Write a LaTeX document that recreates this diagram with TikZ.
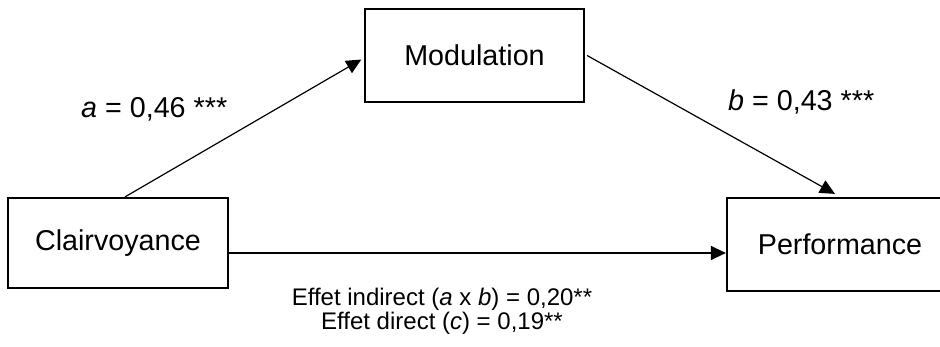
\documentclass[tikz,border=0pt]{standalone}
\usepackage{fontspec}
\setmainfont{Liberation Sans}
\usetikzlibrary{arrows.meta}
\begin{document}
\begin{tikzpicture}[x=1pt,y=-1pt,
  box/.style={draw, line width=2.2pt, inner sep=0pt, font=\fontsize{28.7}{34}\selectfont},
  arr/.style={line width=1.2pt, -{Triangle[length=15pt,width=14pt]}},
  lbl/.style={font=\fontsize{28.7}{34}\selectfont, inner sep=0pt},
  note/.style={font=\fontsize{24}{24}\selectfont, align=center, inner sep=0pt}]
\useasboundingbox (0,0) rectangle (940,347);
% variables
\node[box, minimum width=220pt, minimum height=90pt] (clair) at (118,243) {Clairvoyance};
\node[box, minimum width=219pt, minimum height=93pt] (mod) at (474.5,55.5) {Modulation};
\node[box, minimum width=226pt, minimum height=93pt] (perf) at (840,244.5) {Performance};
% paths
\draw[arr, shorten >=3pt] ([xshift=7pt]clair.north) -- ([yshift=-2.5pt]mod.west);
\draw[arr] ([xshift=2pt]mod.east) -- ([xshift=-5pt,yshift=3pt]perf.north);
\draw[arr] ([yshift=-10pt]clair.east) -- ([yshift=-10pt]clair.east -| perf.west);
% coefficients
\node[lbl, anchor=base west] (la) at (81,118) {\textit{a} = 0,46 ***};
\node[lbl, anchor=base west] (lb) at (728,111) {\textit{b} = 0,43 ***};
\node[note, anchor=base] (eff) at (442,330) {Effet indirect (\textit{a} x \textit{b}) = 0,20**\\Effet direct (\textit{c}) = 0,19**};
\end{tikzpicture}
\end{document}
